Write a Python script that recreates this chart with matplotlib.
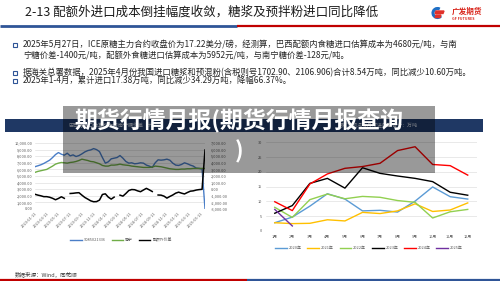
import numpy as np
import pandas as pd
import matplotlib
matplotlib.use("Agg")
import matplotlib.pyplot as plt
from matplotlib.patches import Rectangle, Arc, Polygon
from matplotlib.lines import Line2D

plt.rcParams['font.family'] = ['Noto Sans CJK SC', 'DejaVu Sans']

# ---- text ----
title = "2-13 配额外进口成本倒挂幅度收敛，糖浆及预拌粉进口同比降低"
bullet_lines = [
    "2025年5月27日，ICE原糖主力合约收盘价为17.22美分/磅，经测算，巴西配额内食糖进口估算成本为4680元/吨，与南",
    "宁糖价差-1400元/吨，配额外食糖进口估算成本为5952元/吨，与南宁糖价差-128元/吨。",
    "据海关总署数据，2025年4月份我国进口糖浆和预混粉(含税则号1702.90、2106.906)合计8.54万吨，同比减少10.60万吨。",
    "2025年1-4月，累计进口17.38万吨，同比减少34.29万吨，降幅66.37%。",
]
overlay_title = "期货行情月报(期货行情月报查询\n)"
source = "数据来源：Wind，同花顺"

# ---- left chart: semi-monthly readings from 2023-01-11 ----
left_names = ["S085021336", "南宁", "配额外价差"]
blue = [6410, 6550, 6700, 6900, 7150, 7400, 7800, 8250, 8550, 8300,
        8150, 8450, 8050, 8200, 7950, 8100, 8350, 8650, 8850, 8950,
        9150, 9000, 8700, 7800, 6950, 7150, 7600, 7700, 7800, 8100,
        7700, 7200, 6950, 7000, 6850, 6900, 7000, 6950, 6650, 6500,
        6300, 7000, 7450, 7400, 7450, 7550, 7400, 6950, 6650, 6600,
        6750, 7000, 6850, 6650, 6500, 6200, 6150, 6050, 0]
green = [5550, 5700, 5800, 5900, 6000, 6250, 6500, 6800, 6950, 7050,
         7000, 6950, 7050, 7100, 7200, 7350, 7550, 7450, 7350, 7200,
         7150, 7000, 6850, 6600, 6500, 6500, 6650, 6650, 6700, 6800,
         6700, 6650, 6600, 6500, 6450, 6400, 6350, 6300, 6300, 6300,
         6350, 6500, 6450, 6400, 6300, 6200, 6100, 6050, 6000, 6000,
         6050, 6050, 6100, 6100, 6150, 6150, 6150, 6150, 6150]
nan = np.nan
spread = [-770, -900, -1000, -1130, -1130, -1220, -1380, -1600, -1400, -1150,
          -1380, nan, -650, -620, -560, -530, -900, -1250, -1500, -1760,
          -1900, -1880, -1650, -800, -700, -1200, -1500, -1200, nan, -900,
          -1050, -650, -200, -50, -80, -250, -380, -120, 130, -100,
          -350, nan, -880, -900, -1050, -1350, -1100, -880, -600, -450,
          -600, -720, -500, -300, -250, -130, -60, -20, 5940]
dates = pd.date_range("2023-01-11", periods=len(blue), freq="15D")
tick_dates = pd.date_range("2023-01-01", "2025-05-01", freq="2MS") + pd.Timedelta(days=10)

# ---- right chart: monthly imports (万吨) ----
months = ["1月", "2月", "3月", "4月", "5月", "6月", "7月", "8月", "9月", "10月", "11月", "12月"]
years = ["2020年", "2021年", "2022年", "2023年", "2024年", "2025年"]
y2020 = [2.8, 4.7, 8.4, 12.6, 10.8, 6.8, 7.0, 6.4, 10.1, 14.9, 11.6, 10.8]
y2021 = [2.8, 2.5, 2.6, 3.8, 3.4, 6.3, 5.9, 6.8, 9.2, 6.6, 7.1, 9.5]
y2022 = [8.0, 4.6, 10.6, 12.5, 10.9, 11.7, 11.4, 10.3, 9.7, 4.4, 6.5, 7.3]
y2023 = [6.0, 8.6, 16.1, 17.8, 14.5, 21.4, 19.5, 18.6, 17.8, 16.7, 13.1, 12.1]
y2024 = [9.9, 6.9, 15.9, 19.3, 21.2, 21.8, 22.9, 27.2, 28.5, 22.5, 22.1, 18.9]
y2025 = [7.3, 1.7]
year_colors = ["#5B9BD5", "#FFC000", "#92D050", "#000000", "#FF0000", "#7030A0"]

fig = plt.figure(figsize=(5, 2.81), dpi=100)

# background layer in pixel coordinates
bg = fig.add_axes([0, 0, 1, 1])
bg.set_xlim(0, 500)
bg.set_ylim(281, 0)
bg.axis('off')

bg.text(25, 12.5, title, fontsize=9, va='center', color='#1a1a1a')
bg.plot([0, 237], [25.5, 25.5], color='#2F5597', lw=2, solid_capstyle='butt')
bg.plot([237, 500], [25.5, 25.5], color='#C00000', lw=1.6, solid_capstyle='butt')
bg.plot([0, 247], [280, 280], color='#C00000', lw=1.6, solid_capstyle='butt')
bg.plot([247, 500], [280, 280], color='#2F5597', lw=1.6, solid_capstyle='butt')

# logo
bg.add_patch(Arc((437.5, 13), 9, 9, theta1=40, theta2=300, color='#1F6FC5', lw=2.2))
bg.add_patch(Polygon([[436, 11], [444, 11], [443, 13.5], [435, 13.5]], color='#E0302A'))
bg.add_patch(Polygon([[436, 15], [441, 15], [440, 17.5], [435, 17.5]], color='#E0302A'))
bg.text(452, 11.5, "广发期货", fontsize=5.5, fontweight='bold', color='#D9261C', va='center')
bg.text(452, 19, "GF FUTURES", fontsize=2.6, fontweight='bold', color='#D9261C', va='center')

# bullets
bullet_y = [45, 55, 72.7, 80.9]
for i, (line, y) in enumerate(zip(bullet_lines, bullet_y)):
    bg.text(23, y, line, fontsize=6.0, va='center', color='#262626')
    if i != 1:
        bg.add_patch(Rectangle((12.8, y - 2), 4, 4, fill=False, ec='#2F5597', lw=0.8))

# dark band with chart headers
bg.add_patch(Rectangle((5, 119), 478, 13, fc='#1F3864', ec='none'))
bg.text(68, 125.5, "巴西糖进口估算成本与南宁糖价差（元/吨）", fontsize=3.6, color='#d0d6e2', va='center')
bg.text(418, 125.5, "糖浆及预混粉月度进口量合计：万吨", fontsize=3.6, color='#d0d6e2', va='center', ha='right')

bg.text(15, 274, source, fontsize=4, va='center', color='#404040')

tick_color = '#595959'

# ---- left chart ----
ax1 = fig.add_axes([35 / 500, 1 - 209 / 281, 170 / 500, 66 / 281])
ax1.plot(dates, blue, color='#4A7EC7', lw=1.0, label=left_names[0])
ax1.plot(dates, green, color='#70AD47', lw=1.0, label=left_names[1])
ax1.set_ylim(0, 10000)
ax1.set_yticks(np.arange(0, 10001, 1000))
ax1.set_yticklabels([f"{v:,.2f}" for v in np.arange(0, 10001, 1000)])
ax1.set_xlim(dates[0], dates[-1])
ax1.set_xticks(tick_dates)
ax1.set_xticklabels([d.strftime("%Y-%m-%d") for d in tick_dates], rotation=45, ha='right',
                    rotation_mode='anchor')
ax1.grid(axis='y', color='#D9D9D9', lw=0.4)
ax1.set_axisbelow(True)
ax1.tick_params(length=0, labelsize=2.8, colors=tick_color, pad=2)
for s in ax1.spines.values():
    s.set_visible(False)

ax1b = ax1.twinx()
ax1b.plot(dates, spread, color='black', lw=1.1, label=left_names[2])
ax1b.set_ylim(-3000, 7000)
ax1b.set_yticks(np.arange(-3000, 7001, 1000))
ax1b.set_yticklabels([f"{v:,.2f}" for v in np.arange(-3000, 7001, 1000)])
ax1b.tick_params(length=0, labelsize=2.8, colors=tick_color, pad=4)
for s in ax1b.spines.values():
    s.set_visible(False)

h1 = [Line2D([], [], color='#4A7EC7', lw=1), Line2D([], [], color='#70AD47', lw=1),
      Line2D([], [], color='black', lw=1)]
ax1.legend(h1, left_names, loc='center', bbox_to_anchor=(121 / 500, 1 - 240 / 281),
           bbox_transform=fig.transFigure, ncol=3, frameon=False, fontsize=2.8,
           handlelength=3, columnspacing=1.5, handletextpad=0.5, labelcolor=tick_color)

# ---- right chart ----
ax2 = fig.add_axes([266 / 500, 1 - 231 / 281, 210.5 / 500, 88.7 / 281])
series = [y2020, y2021, y2022, y2023, y2024, y2025]
for vals, name, col in zip(series, years, year_colors):
    ax2.plot(range(len(vals)), vals, color=col, lw=1.0, label=name)
ax2.set_xlim(-0.5, 11.5)
ax2.set_ylim(0, 30)
ax2.set_yticks(np.arange(0, 31, 5))
ax2.set_xticks(range(12))
ax2.set_xticklabels(months)
ax2.grid(axis='y', color='#D9D9D9', lw=0.4)
ax2.set_axisbelow(True)
ax2.tick_params(length=0, labelsize=2.8, colors=tick_color, pad=3)
for s in ax2.spines.values():
    s.set_visible(False)
ax2.legend(loc='center', bbox_to_anchor=(369 / 500, 1 - 248 / 281),
           bbox_transform=fig.transFigure, ncol=6, frameon=False, fontsize=2.8,
           handlelength=3, columnspacing=1.5, handletextpad=0.5, labelcolor=tick_color)

# ---- translucent overlay with headline ----
ov = fig.add_axes([0, 0, 1, 1])
ov.set_zorder(10)
ov.set_xlim(0, 500)
ov.set_ylim(281, 0)
ov.axis('off')
ov.patch.set_alpha(0)
ov.add_patch(Rectangle((63, 106), 372, 67, fc='black', alpha=0.4, ec='none'))
ov.text(239, 136, overlay_title, fontsize=16.5, fontweight='bold', color='white',
        ha='center', va='center', multialignment='center', linespacing=1.35)

fig.savefig("out.png", dpi=100)
